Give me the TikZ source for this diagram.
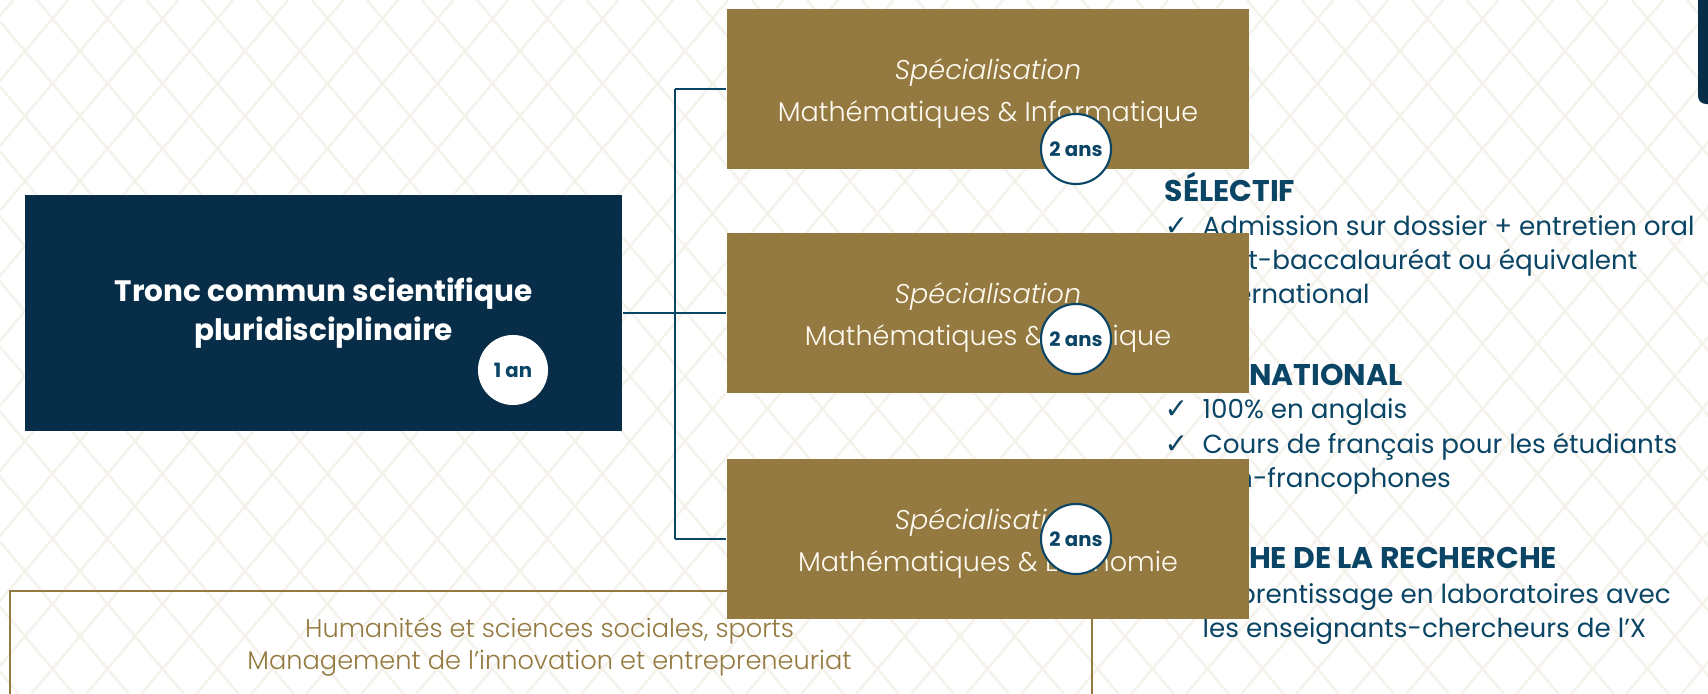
\documentclass[tikz,border=0pt]{standalone}
\usepackage{fontspec}
\setmainfont{Poppins}
\newfontfamily\checkfont{DejaVu Sans}
\IfFontExistsTF{Poppins Light}
  {\newfontfamily\lightfont{Poppins}[UprightFont={* Light},ItalicFont={* Light Italic}]}
  {\newfontfamily\lightfont{Poppins}}
\definecolor{navy}{HTML}{072D48}
\definecolor{ink}{HTML}{0B4566}
\definecolor{gold}{HTML}{947A40}
\definecolor{cream}{HTML}{FFFBF2}
\definecolor{lattice}{HTML}{F4F2EA}
\tikzset{
  specbox/.style={fill=gold,minimum width=5.22cm,minimum height=1.60cm,inner sep=0,align=center,text=cream,font=\lightfont\fontsize{7.7}{12}\selectfont},
  yearsbadge/.style={circle,fill=white,draw=ink,line width=0.6pt,minimum size=0.70cm,inner sep=0,text=ink,font=\bfseries\fontsize{5.6}{6}\selectfont},
  link/.style={draw=ink,line width=0.6pt},
  heading/.style={anchor=base west,inner sep=0,text=ink,font=\bfseries\fontsize{8.5}{9}\selectfont},
  item/.style={anchor=base west,inner sep=0,text=ink,font=\fontsize{7.45}{9}\selectfont},
  tick/.style={anchor=base west,inner sep=0,text=ink,font=\checkfont\fontsize{8}{9}\selectfont},
  humtext/.style={anchor=base,inner sep=0,text=gold,font=\lightfont\fontsize{7.3}{9}\selectfont}
}

\begin{document}
\begin{tikzpicture}[x=0.01cm,y=-0.01cm]
	\useasboundingbox (0,0) rectangle (1708,694);
	\fill[white] (0,0) rectangle (1708,694);
	\begin{scope}
		\clip (0,0) rectangle (1708,694);
		\foreach \c in {-594,-539,...,1716} \draw[lattice,line width=0.7pt] (\c+25.8,0) -- (\c+612.8,694);
		\foreach \c in {0,55,...,2310} \draw[lattice,line width=0.7pt] (\c+13.2,0) -- (\c-573.8,694);
	\end{scope}
	\fill[navy,rounded corners=0.08cm] (1698,-20) rectangle (1740,104);

	\node[draw=gold,line width=0.6pt,minimum width=10.81cm,minimum height=1.40cm,anchor=north west,inner sep=0] (h) at (9,590) {};
	\node[humtext] (h1) at (549.5,637) {Humanités et sciences sociales, sports};
	\node[humtext] (h2) at (549.5,669) {Management de l’innovation et entrepreneuriat};

	\node[heading] (a0) at (1164,201) {SÉLECTIF};
	\node[tick] (a1c) at (1164,235) {✓};
	\node[item] (a1) at (1202,235) {Admission sur dossier + entretien oral};
	\node[tick] (a2c) at (1164,269) {✓};
	\node[item] (a2) at (1202,269) {Post-baccalauréat ou équivalent};
	\node[item] (a3) at (1202,303) {international};
	\node[heading] (b0) at (1164,385) {INTERNATIONAL};
	\node[tick] (b1c) at (1164,418) {✓};
	\node[item] (b1) at (1202,418) {100\% en anglais};
	\node[tick] (b2c) at (1164,453) {✓};
	\node[item] (b2) at (1202,453) {Cours de français pour les étudiants};
	\node[item] (b3) at (1202,487) {non-francophones};
	\node[heading] (c0) at (1164,568) {PROCHE DE LA RECHERCHE};
	\node[tick] (c1c) at (1164,603) {✓};
	\node[item] (c1) at (1202,603) {Apprentissage en laboratoires avec};
	\node[item] (c2) at (1202,637) {les enseignants-chercheurs de l’X};

	\node[fill=navy,minimum width=5.97cm,minimum height=2.36cm,inner sep=0,align=center,text=white,font=\bfseries\fontsize{8.4}{11.1}\selectfont] (t) at (323.5,313) {Tronc commun scientifique\\pluridisciplinaire};
	\node[specbox] (s1) at (988,89) {\rule{0pt}{8.5pt}\itshape Spécialisation\\Mathématiques \& Informatique};
	\node[specbox] (s2) at (988,313) {\rule{0pt}{8.5pt}\itshape Spécialisation\\Mathématiques \& Physique};
	\node[specbox] (s3) at (988,539) {\rule{0pt}{8.5pt}\itshape Spécialisation\\Mathématiques \& Économie};

	\coordinate (j1) at (675,89);
	\coordinate (j3) at (675,539);
	\draw[link] (j1) -- (j3);
	\draw[link] (j1) -- (s1.west);
	\draw[link] (t.east) -- (s2.west);
	\draw[link] (j3) -- (s3.west);

	\node[yearsbadge,draw=none] (y0) at (513,370) {1 an};
	\node[yearsbadge] (y1) at (1076,149) {2 ans};
	\node[yearsbadge] (y2) at (1076,339) {2 ans};
	\node[yearsbadge] (y3) at (1076,539) {2 ans};
\end{tikzpicture}
\end{document}
